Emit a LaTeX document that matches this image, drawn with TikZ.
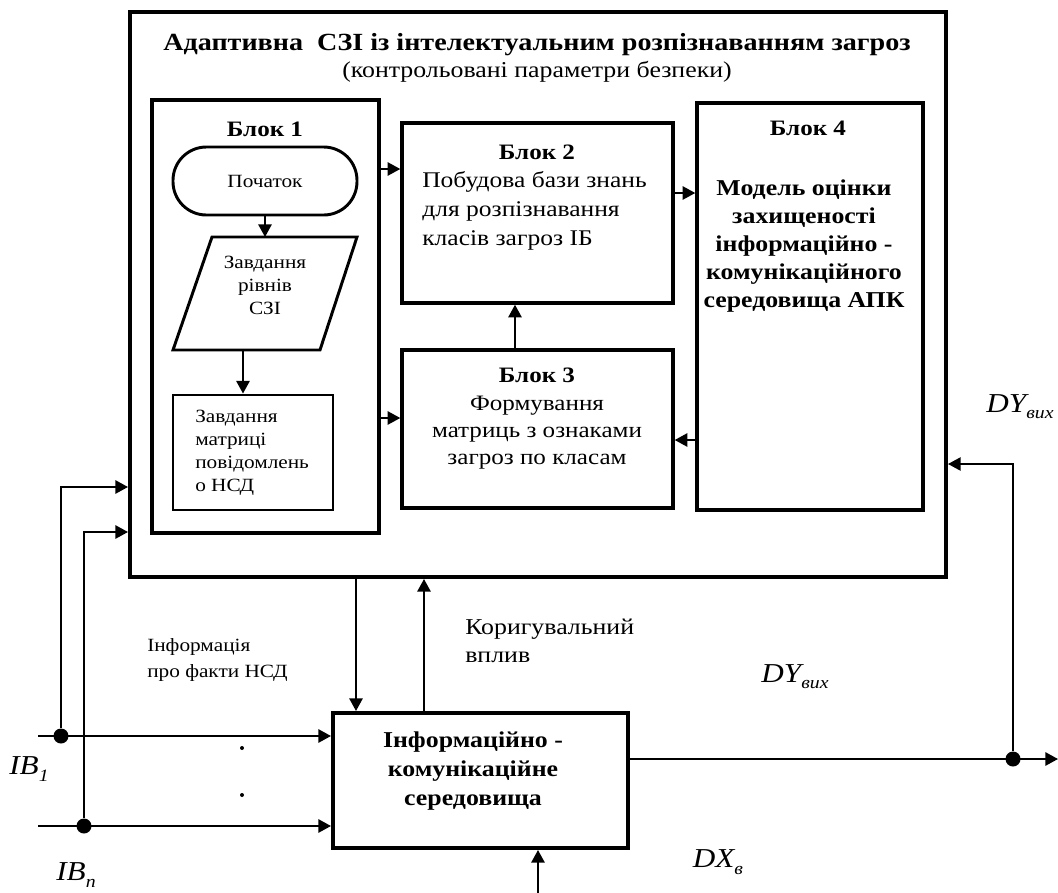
\documentclass[tikz,border=0pt]{standalone}
\usepackage{fontspec}
\setmainfont[FakeStretch=1.14]{Liberation Serif}
\usetikzlibrary{arrows.meta,fit}
\newdimen\px \px=0.75pt
\newcommand\fsz[2]{\fontsize{#1}{#2}\selectfont}
\newcommand\lowsub[1]{\raisebox{-0.5ex}{\fsz{13}{13}\itshape #1}}

\tikzset{
  frame/.style={draw, line width=3pt, inner sep=0pt},
  block/.style={draw, line width=2.6pt, inner sep=0pt},
  shapebox/.style={draw, line width=2.2pt, inner sep=0pt},
  conn/.style={line width=1.4pt},
  arr/.style={conn, -{Triangle[length=9.5pt,width=10pt]}},
  thinarr/.style={line width=1.1pt, -{Triangle[length=9.5pt,width=10pt]}},
  dot/.style={circle, fill, inner sep=0pt, minimum size=15\px},
  smalldot/.style={circle, fill, inner sep=0pt, minimum size=4\px},
  txt/.style={inner sep=0pt},
  blocktitle/.style={txt, font={\bfseries\fsz{16.5}{19}}},
  signal/.style={txt, font={\itshape\fsz{20.5}{22}}},
}

\begin{document}
\begin{tikzpicture}[x=0.75pt, y=-0.75pt]
  \useasboundingbox (0,0) rectangle (1058,893);

  % outer system frame
  \node[frame, fit={(130,12)(946,577)}] (sys) {};
  \node[txt, font={\bfseries\fsz{18.5}{22}}] (title) at (537,45)
    {Адаптивна\ \ СЗІ із інтелектуальним розпізнаванням загроз};
  \node[txt, font={\fsz{17}{20}}] (subtitle) at (537,72)
    {(контрольовані параметри безпеки)};

  % block 1: small flowchart
  \node[block, fit={(152,100)(379,533)}] (blk1) {};
  \node[blocktitle] (blk1t) at (265,129) {Блок 1};
  \node[shapebox, rounded corners=25pt, fit={(173,147)(357,215)}] (start) {};
  \node[txt, font={\fsz{14}{17}}] (startt) at (265,181) {Початок};
  \coordinate (partop) at (265,237);
  \coordinate (parbot) at (243,350);
  \draw[shapebox] (212,237) -- (357,237) -- (320,350) -- (173,350) -- cycle;
  \node[txt, font={\fsz{14}{17.3}}, align=center] (part) at (265,285)
    {Завдання\\рівнів\\СЗІ};
  \node[shapebox, fit={(173,395)(333,510)}] (nsd) {};
  \node[txt, font={\fsz{14}{17.3}}, align=left, anchor=west] (nsdt) at (195,453)
    {Завдання\\матриці\\повідомлень\\о НСД};
  \draw[arr] (start.south) -- (partop);
  \draw[arr] (parbot) -- (nsd.north -| parbot);

  % block 2
  \node[block, fit={(402,123)(673,303)}] (blk2) {};
  \node[blocktitle] (blk2t) at (537,152) {Блок 2};
  \node[txt, font={\fsz{16.8}{22}}, align=left, anchor=west] (blk2b) at (422,211)
    {Побудова бази знань\\для розпізнавання\\класів загроз ІБ};

  % block 3
  \node[block, fit={(402,350)(673,508)}] (blk3) {};
  \node[txt, font={\fsz{16.5}{20.5}}, align=center] (blk3b) at (537,419)
    {{\bfseries Блок 3}\\Формування\\матриць з ознаками\\загроз по класам};

  % block 4
  \node[block, fit={(697,103)(923,510)}] (blk4) {};
  \node[blocktitle] (blk4t) at (808,128) {Блок 4};
  \node[txt, font={\bfseries\fsz{17}{21}}, align=center] (blk4b) at (804,246)
    {Модель оцінки\\захищеності\\інформаційно -\\комунікаційного\\середовища АПК};

  % links between blocks
  \draw[arr] (blk1.east |- 0,169) -- (blk2.west |- 0,169);
  \draw[arr] (blk1.east |- 0,418) -- (blk3.west |- 0,418);
  \draw[arr] (blk2.east |- 0,193) -- (blk4.west |- 0,193);
  \draw[arr] (blk4.west |- 0,440) -- (blk3.east |- 0,440);
  \draw[arr] (blk3.north -| 515,0) -- (blk2.south -| 515,0);

  % information-communication environment
  \node[frame, fit={(333,713)(628,848)}] (ics) {};
  \node[txt, font={\bfseries\fsz{17}{22}}, align=center] (icst) at (473,771)
    {Інформаційно -\\комунікаційне\\середовища};

  \draw[arr] (sys.south -| 356,0) -- (ics.north -| 356,0);
  \draw[arr] (ics.north -| 424,0) -- (sys.south -| 424,0);
  \node[txt, font={\fsz{14}{20}}, align=left, anchor=west] (nsdinfo) at (147,660)
    {Інформація\\про факти НСД};
  \node[txt, font={\fsz{17}{21}}, align=left, anchor=west] (corr) at (465,641)
    {Коригувальний\\вплив};

  % inputs
  \coordinate (in1) at (38,736);
  \coordinate (inn) at (38,826);
  \node[dot] (j1) at (61,736) {};
  \node[dot] (jn) at (84,826) {};
  \draw[arr] (in1) -- (ics.west |- in1);
  \draw[arr] (inn) -- (ics.west |- inn);
  \draw[arr] (j1) |- (sys.west |- 0,487);
  \draw[arr] (jn) |- (sys.west |- 0,532);
  \node[smalldot] (dots1) at (242,748) {};
  \node[smalldot] (dots2) at (242,795) {};
  \node[signal] (ib1) at (29,769) {IB\lowsub{1}};
  \node[signal] (ibn) at (76,875) {IB\lowsub{n}};

  % disturbance input
  \coordinate (dxin) at (538,893);
  \draw[arr] (dxin) -- (ics.south -| dxin);
  \node[signal] (dx) at (718,862) {DX\lowsub{в}};

  % output and feedback
  \coordinate (out) at (1058,759);
  \node[dot] (jout) at (1013,759) {};
  \draw[arr] (ics.east |- out) -- (out);
  \draw[thinarr] (jout) |- (sys.east |- 0,464);
  \node[signal] (dymid) at (795,677) {DY\lowsub{вих}};
  \node[signal] (dytop) at (1020,407) {DY\lowsub{вих}};
\end{tikzpicture}
\end{document}
